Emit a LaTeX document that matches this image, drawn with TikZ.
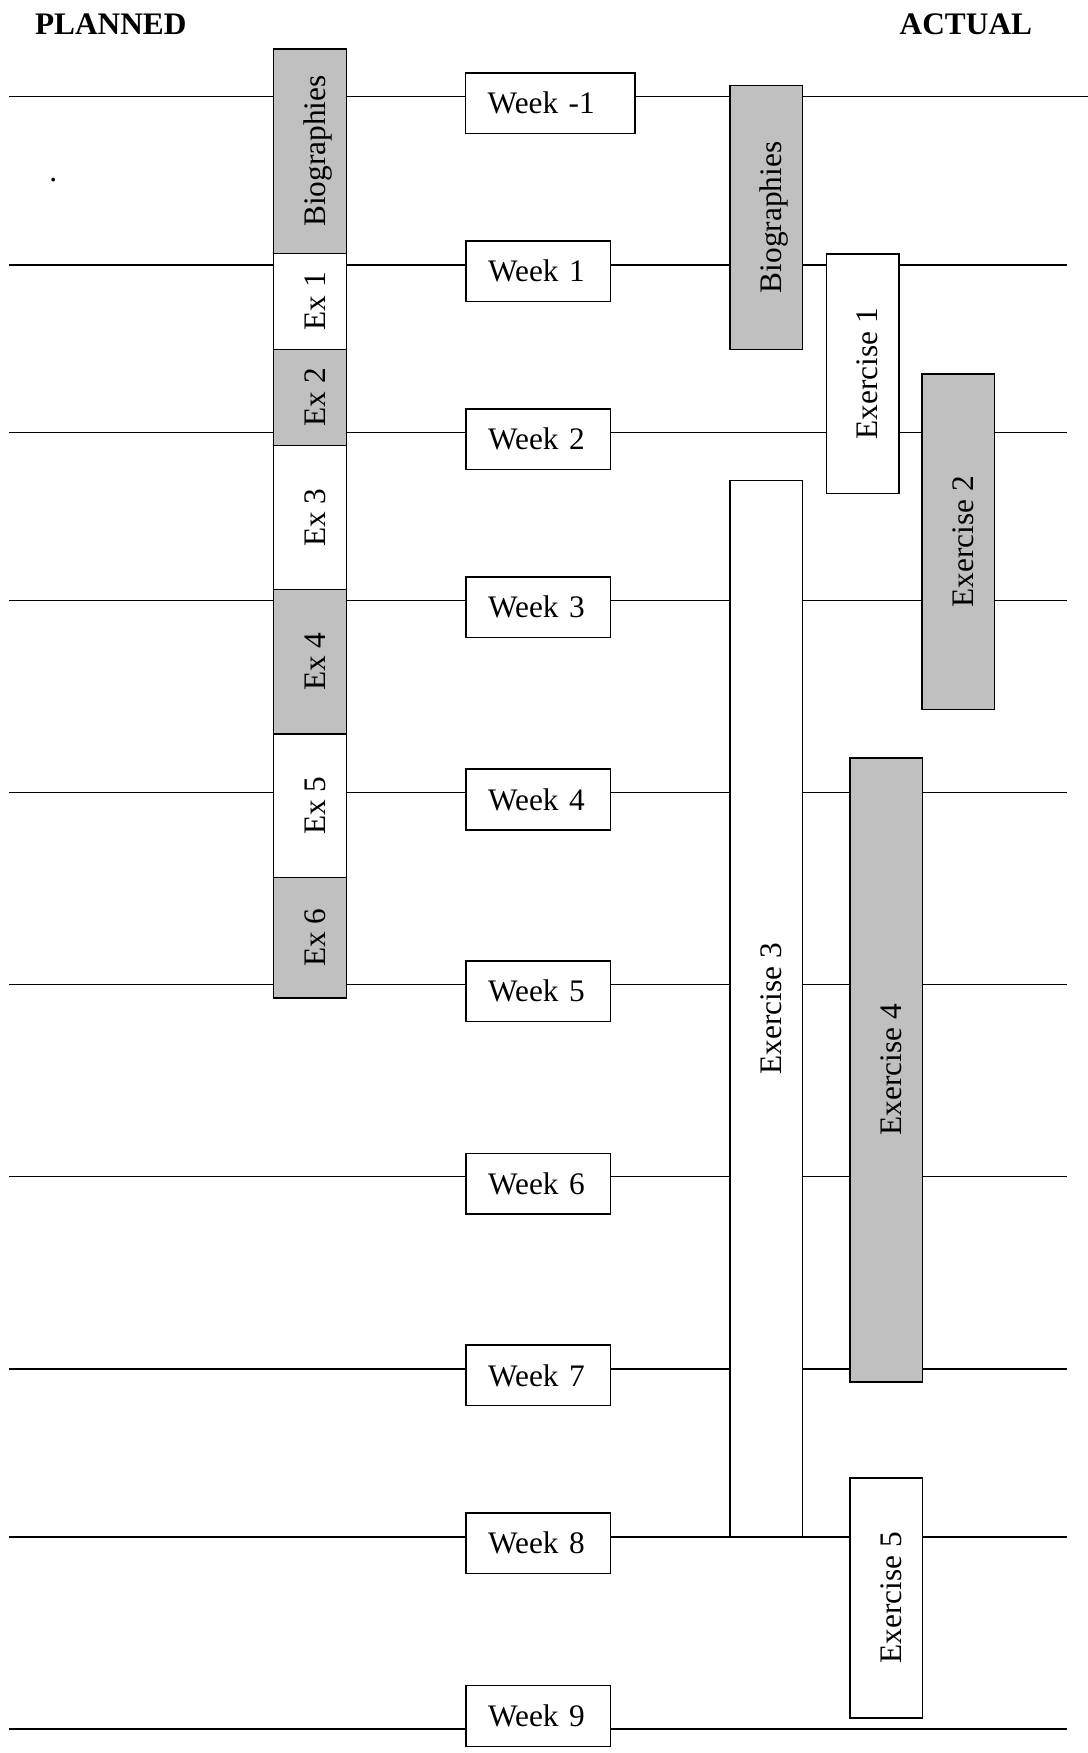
\documentclass[tikz,border=0pt]{standalone}
\usepackage{fontspec}
\setmainfont{Liberation Serif}

\definecolor{barfill}{RGB}{192,192,192}
\tikzset{every picture/.style={line width=1.1pt}}
\tikzset{
  weekbox/.style={draw, fill=white, inner xsep=16.5pt, inner ysep=0pt, text width=75.5pt, minimum height=45.5pt, align=left},
  barbox/.style={draw, rotate=90, inner sep=0pt, text height=23pt, text depth=0pt, minimum height=54.5pt},
  greybar/.style={barbox, fill=barfill},
  whitebar/.style={barbox, fill=white},
  heading/.style={anchor=base west, inner sep=0pt, font=\fontsize{23.5}{28}\selectfont\bfseries},
}

\begin{document}
\begin{tikzpicture}[x=0.75pt,y=0.75pt,yscale=-1,xscale=1,font=\fontsize{23.5}{28}\selectfont]
\useasboundingbox (0,0) rectangle (1088,1753);

% Headings
\node[heading] (planned) at (34.3,34.3) {PLANNED};
\node[heading] (actual) at (899,34.3) {ACTUAL};
\node[anchor=base, inner sep=0pt] (dot) at (53.3,181.5) {.};

% Week lines
\coordinate (lwm1) at (9,96.7);   \coordinate (rwm1) at (1088,96.7);
\coordinate (lw1) at (9,265);     \coordinate (rw1) at (1066.7,265);
\coordinate (lw2) at (9,432.6);   \coordinate (rw2) at (1066.7,432.6);
\coordinate (lw3) at (9,600.6);   \coordinate (rw3) at (1066.7,600.6);
\coordinate (lw4) at (9,792.4);   \coordinate (rw4) at (1066.7,792.4);
\coordinate (lw5) at (9,984.5);   \coordinate (rw5) at (1066.7,984.5);
\coordinate (lw6) at (9,1176.7);  \coordinate (rw6) at (1066.7,1176.7);
\coordinate (lw7) at (9,1368.9);  \coordinate (rw7) at (1066.7,1368.9);
\coordinate (lw8) at (9,1537);    \coordinate (rw8) at (1066.7,1537);
\coordinate (lw9) at (9,1729);    \coordinate (rw9) at (1066.7,1729);
\draw (lwm1) -- (rwm1);
\draw (lw1) -- (rw1);
\draw (lw2) -- (rw2);
\draw (lw3) -- (rw3);
\draw (lw4) -- (rw4);
\draw (lw5) -- (rw5);
\draw (lw6) -- (rw6);
\draw (lw7) -- (rw7);
\draw (lw8) -- (rw8);
\draw (lw9) -- (rw9);

% Planned column
\node[greybar, minimum width=153.2pt] (pbio) at (310,151.15) {Biographies};
\node[whitebar, minimum width=72pt] (pex1) at (310,301.3) {Ex 1};
\node[greybar, minimum width=72.2pt] (pex2) at (310,397.45) {Ex 2};
\node[whitebar, minimum width=107.9pt] (pex3) at (310,517.55) {Ex 3};
\node[greybar, minimum width=108.2pt] (pex4) at (310,661.65) {Ex 4};
\node[whitebar, minimum width=107.9pt] (pex5) at (310,805.75) {Ex 5};
\node[greybar, minimum width=90.2pt] (pex6) at (310,937.8) {Ex 6};

% Week boxes
\node[weekbox, text width=94pt] (wkm1) at (550.4,103.1) {Week -1};
\node[weekbox] (wk1) at (538.4,271.3) {Week 1};
\node[weekbox] (wk2) at (538.4,439.3) {Week 2};
\node[weekbox] (wk3) at (538.4,607.35) {Week 3};
\node[weekbox] (wk4) at (538.4,799.45) {Week 4};
\node[weekbox] (wk5) at (538.4,991.2) {Week 5};
\node[weekbox] (wk6) at (538.4,1183.7) {Week 6};
\node[weekbox] (wk7) at (538.4,1375.4) {Week 7};
\node[weekbox] (wk8) at (538.4,1543.25) {Week 8};
\node[weekbox] (wk9) at (538.4,1716) {Week 9};

% Actual column
\node[greybar, minimum width=197.7pt] (abio) at (766.2,217.5) {Biographies};
\node[whitebar, minimum width=179.6pt] (aex1) at (862.6,373.75) {Exercise 1};
\node[greybar, minimum width=251.8pt] (aex2) at (958.4,541.85) {Exercise 2};
\node[whitebar, minimum width=792.4pt] (aex3) at (766.4,1008.75) {Exercise 3};
\node[greybar, minimum width=468pt] (aex4) at (886.4,1070) {Exercise 4};
\node[whitebar, minimum width=180pt] (aex5) at (886.4,1598) {Exercise 5};

\end{tikzpicture}
\end{document}
